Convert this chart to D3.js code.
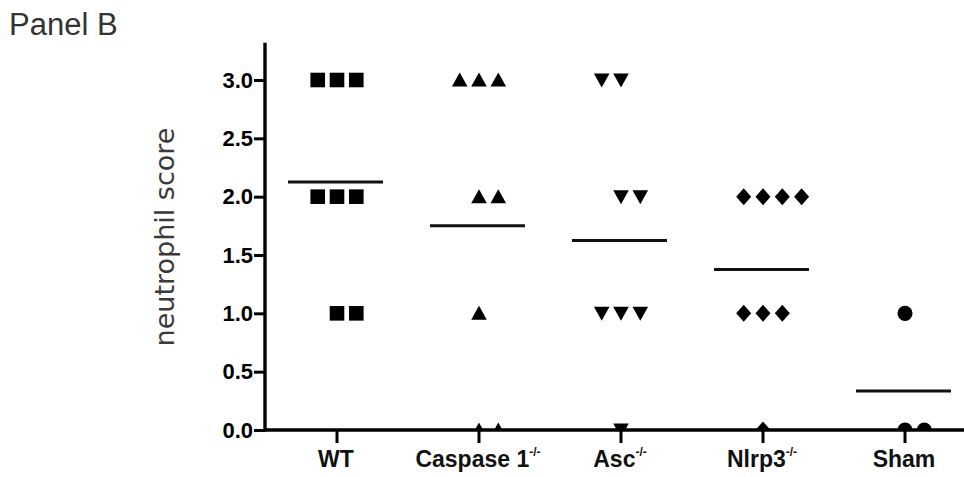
<!DOCTYPE html>
<html lang="en">
<head>
<meta charset="utf-8">
<script src="https://d3js.org/d3.v7.min.js"></script>
<style>
  body { margin: 0; background: #fff; }
  svg { display: block; }
</style>
</head>
<body>
<svg id="chart"></svg>
<script>
const width = 964;
const height = 477;

// groups on the x axis and their superscripts
const groups = ["WT", "Caspase 1", "Asc", "Nlrp3", "Sham"];
const groupSup = ["", "-/-", "-/-", "-/-", ""];

// neutrophil scores per animal
const wtScores = [3, 3, 3, 2, 2, 2, 1, 1];
const caspaseScores = [3, 3, 3, 2, 2, 1, 0, 0];
const ascScores = [3, 3, 2, 2, 1, 1, 1, 0];
const nlrp3Scores = [2, 2, 2, 2, 1, 1, 1, 0];
const shamScores = [1, 0, 0];

const yTicks = [0, 0.5, 1, 1.5, 2, 2.5, 3];

const allScores = [wtScores, caspaseScores, ascScores, nlrp3Scores, shamScores];

const svg = d3.select("#chart")
    .attr("width", width)
    .attr("height", height);

const x = d3.scaleBand().domain(groups).range([266, 976]);
const y = d3.scaleLinear().domain([0, 3.3]).range([430, 45]);
const cx = g => x(g) + x.bandwidth() / 2;
const step = 19.3;

// marker shapes, one per group
const shapes = [
  "M-7.3,-7.3H7.3V7.3H-7.3Z",
  "M0,-7.5L7.8,6.5H-7.8Z",
  "M0,7.5L7.8,-6.5H-7.8Z",
  "M0,-8.5L7.5,0L0,8.5L-7.5,0Z",
  d3.symbol(d3.symbolCircle, 180)()
];

// prism spreads equal values sideways; one row goes the other way
const spreadShift = { "Asc|3": -1 };

svg.append("clipPath").attr("id", "plotclip")
  .append("rect").attr("x", 266).attr("y", 0).attr("width", width).attr("height", 430);

const pts = svg.append("g").attr("clip-path", "url(#plotclip)");

allScores.forEach((scores, gi) => {
  const g = groups[gi];
  const counts = d3.rollup(scores, v => v.length, d => d);
  const seen = new Map();
  const points = scores.map(v => {
    const n = counts.get(v);
    const i = seen.get(v) || 0;
    seen.set(v, i + 1);
    const shift = spreadShift[g + "|" + v] || 0;
    return { v, slot: i - Math.floor((n - 1) / 2) + shift };
  });

  pts.selectAll(null)
    .data(points)
    .enter().append("path")
    .attr("d", shapes[gi])
    .attr("fill", "#000")
    .attr("transform", d => `translate(${cx(g) + d.slot * step},${y(d.v)})`);

  // mean line
  const m = d3.mean(scores);
  svg.append("line")
    .attr("x1", cx(g) - 49).attr("x2", cx(g) + 46)
    .attr("y1", y(m)).attr("y2", y(m))
    .attr("stroke", "#111")
    .attr("stroke-width", 3);
});

// y axis
const yAxis = svg.append("g")
    .attr("transform", "translate(265,0)")
    .call(d3.axisLeft(y).tickValues(yTicks).tickFormat(d3.format(".1f")).tickSize(11).tickSizeOuter(0));
yAxis.select(".domain").attr("stroke", "#000").attr("stroke-width", 3.4)
  .attr("d", `M0,${y(3.32)}V${y(0) + 1.5}`);
yAxis.selectAll(".tick line").attr("stroke", "#000").attr("stroke-width", 3);
yAxis.selectAll(".tick text")
  .attr("x", -12)
  .attr("fill", "#000")
  .style("font-family", "Liberation Sans, Arial, sans-serif")
  .style("font-size", "22px")
  .style("font-weight", "bold");

// x axis
const xAxis = svg.append("g")
    .attr("transform", `translate(0,${y(0)})`)
    .call(d3.axisBottom(x).tickSize(13).tickSizeOuter(0).tickFormat(""));
xAxis.select(".domain").attr("stroke", "#000").attr("stroke-width", 3.4)
  .attr("d", `M264,0H${width}`);
xAxis.selectAll(".tick line").attr("stroke", "#000").attr("stroke-width", 3);

const labels = svg.append("g")
  .style("font-family", "Liberation Sans, Arial, sans-serif")
  .style("font-weight", "bold")
  .attr("fill", "#111");

groups.forEach((g, i) => {
  const t = labels.append("text")
    .attr("x", cx(g) - 1)
    .attr("y", 467)
    .attr("text-anchor", "middle")
    .style("font-size", "23px");
  t.append("tspan").text(g);
  if (groupSup[i]) {
    t.append("tspan")
      .attr("dy", -11)
      .style("font-size", "12px")
      .text(groupSup[i]);
  }
});

// axis title
svg.append("text")
  .attr("transform", "translate(174,237) rotate(-90)")
  .attr("text-anchor", "middle")
  .attr("fill", "#3a3a3a")
  .style("font-family", "DejaVu Sans, sans-serif")
  .style("font-size", "27px")
  .text("neutrophil score");

svg.append("text")
  .attr("x", 9)
  .attr("y", 35)
  .attr("fill", "#333")
  .style("font-family", "Liberation Sans, Arial, sans-serif")
  .style("font-size", "31px")
  .text("Panel B");
</script>
</body>
</html>
